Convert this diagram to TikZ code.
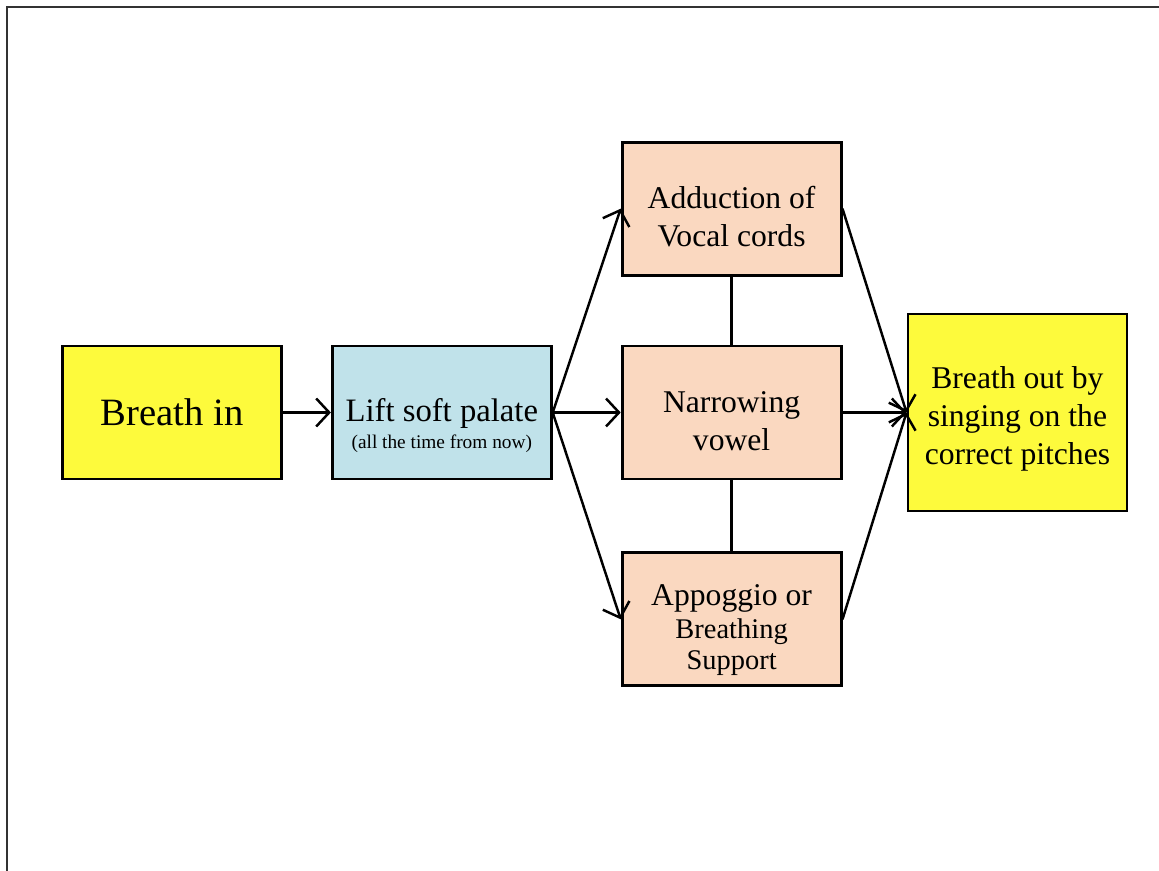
\documentclass[tikz,border=0pt]{standalone}
\usepackage{fontspec}
\setmainfont{Liberation Serif}
\usepackage{tikz}
\usetikzlibrary{arrows.meta, positioning}

\definecolor{breathyellow}{HTML}{FDFA3C}
\definecolor{palateblue}{HTML}{C0E2EA}
\definecolor{vocalpeach}{HTML}{FAD8C0}

\begin{document}
\begin{tikzpicture}[
  box/.style = {draw, line width=0.8pt, minimum height=1.33cm, minimum width=2.19cm, align=center, inner sep=1pt, font=\fontsize{9}{10.8}\selectfont},
  arrow/.style = {line width=0.7pt, -{Straight Barb[length=1.3mm, width=2.8mm]}},
  link/.style = {line width=0.7pt},
  node distance=0.7cm and 0.7cm
]
  \useasboundingbox (0,0) rectangle (11.59,8.71);

  % slide frame
  \draw[line width=0.6pt, black!80] (0.07,0) -- (0.07,8.64) -- (11.59,8.64);

  % Breath in
  \node[box, fill=breathyellow, font=\fontsize{11}{13}\selectfont] (breathin) at (1.72,4.585) {Breath in};

  % Lift soft palate
  \node[box, fill=palateblue, right=0.48cm of breathin] (palate) {
    \rule{0pt}{14pt}{\fontsize{9.3}{10}\selectfont Lift soft palate}\\[-3pt]
    {\fontsize{5.5}{6}\selectfont (all the time from now)}
  };

  % Middle column
  \node[box, fill=vocalpeach, right=0.68cm of palate] (vowel) {\rule{0pt}{11pt}Narrowing\\vowel};
  \node[box, fill=vocalpeach, above=0.68cm of vowel] (cords) {\rule{0pt}{11pt}Adduction of\\Vocal cords};
  \node[box, fill=vocalpeach, below=0.71cm of vowel] (support) {
    \rule{0pt}{12pt}Appoggio or\\[-1.5pt]
    {\fontsize{8.1}{10}\selectfont Breathing}\\[-2pt]
    {\fontsize{8.1}{10}\selectfont Support}
  };

  % Breath out
  \node[box, fill=breathyellow, minimum height=1.97cm, right=0.64cm of vowel] (breathout) {
    \rule{0pt}{10pt}Breath out by\\singing on the\\correct pitches
  };

  % breath in -> palate
  \draw[arrow] (breathin.east) -- (palate.west);

  % palate -> middle column
  \draw[arrow] (palate.east) -- (cords.west);
  \draw[arrow] (palate.east) -- (vowel.west);
  \draw[arrow] (palate.east) -- (support.west);

  % vertical links
  \draw[link] (cords.south) -- (vowel.north);
  \draw[link] (vowel.south) -- (support.north);

  % middle column -> breath out
  \draw[arrow] (cords.east) -- (breathout.west);
  \draw[arrow] (vowel.east) -- (breathout.west);
  \draw[arrow] (support.east) -- (breathout.west);

\end{tikzpicture}
\end{document}
